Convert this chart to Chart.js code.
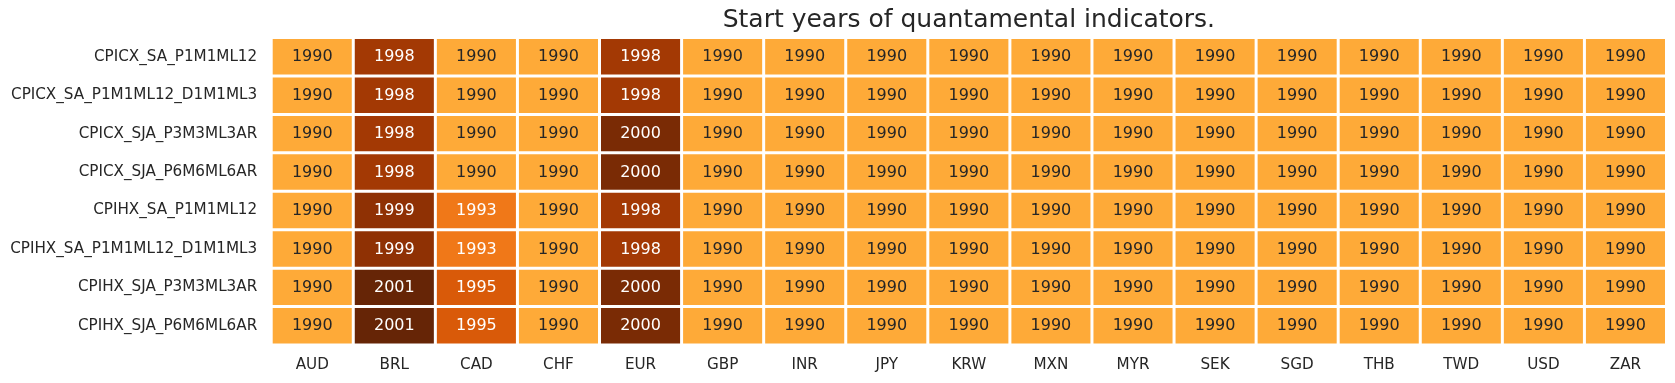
<!DOCTYPE html>
<html>
<head>
<meta charset="utf-8">
<script src="https://cdn.jsdelivr.net/npm/chart.js@4"></script>
<style>
  html, body { margin: 0; padding: 0; background: #ffffff; }
  #wrap { width: 1675px; height: 383px; }
</style>
</head>
<body>
<div id="wrap"><canvas id="c" width="1675" height="383"></canvas></div>
<script>
// ---- data ----
const chartTitle = "Start years of quantamental indicators.";
const currencies = ["AUD","BRL","CAD","CHF","EUR","GBP","INR","JPY","KRW","MXN","MYR","SEK","SGD","THB","TWD","USD","ZAR"];
const indicators = [
  "CPICX_SA_P1M1ML12",
  "CPICX_SA_P1M1ML12_D1M1ML3",
  "CPICX_SJA_P3M3ML3AR",
  "CPICX_SJA_P6M6ML6AR",
  "CPIHX_SA_P1M1ML12",
  "CPIHX_SA_P1M1ML12_D1M1ML3",
  "CPIHX_SJA_P3M3ML3AR",
  "CPIHX_SJA_P6M6ML6AR"
];
const startCPICX_SA_P1M1ML12         = [1990,1998,1990,1990,1998,1990,1990,1990,1990,1990,1990,1990,1990,1990,1990,1990,1990];
const startCPICX_SA_P1M1ML12_D1M1ML3 = [1990,1998,1990,1990,1998,1990,1990,1990,1990,1990,1990,1990,1990,1990,1990,1990,1990];
const startCPICX_SJA_P3M3ML3AR       = [1990,1998,1990,1990,2000,1990,1990,1990,1990,1990,1990,1990,1990,1990,1990,1990,1990];
const startCPICX_SJA_P6M6ML6AR       = [1990,1998,1990,1990,2000,1990,1990,1990,1990,1990,1990,1990,1990,1990,1990,1990,1990];
const startCPIHX_SA_P1M1ML12         = [1990,1999,1993,1990,1998,1990,1990,1990,1990,1990,1990,1990,1990,1990,1990,1990,1990];
const startCPIHX_SA_P1M1ML12_D1M1ML3 = [1990,1999,1993,1990,1998,1990,1990,1990,1990,1990,1990,1990,1990,1990,1990,1990,1990];
const startCPIHX_SJA_P3M3ML3AR       = [1990,2001,1995,1990,2000,1990,1990,1990,1990,1990,1990,1990,1990,1990,1990,1990,1990];
const startCPIHX_SJA_P6M6ML6AR       = [1990,2001,1995,1990,2000,1990,1990,1990,1990,1990,1990,1990,1990,1990,1990,1990,1990];

const rowValues = [
  startCPICX_SA_P1M1ML12, startCPICX_SA_P1M1ML12_D1M1ML3,
  startCPICX_SJA_P3M3ML3AR, startCPICX_SJA_P6M6ML6AR,
  startCPIHX_SA_P1M1ML12, startCPIHX_SA_P1M1ML12_D1M1ML3,
  startCPIHX_SJA_P3M3ML3AR, startCPIHX_SJA_P6M6ML6AR
];

// ---- colour map (YlOrBr) ----
const ylOrBr = [[255,255,229],[255,247,188],[254,227,145],[254,196,79],[254,153,41],[236,112,20],[204,76,2],[153,52,4],[102,37,6]];
const vmin = 1981, vmax = 2001;
function cmap(v) {
  let t = (v - vmin) / (vmax - vmin);
  t = Math.max(0, Math.min(1, t));
  const p = t * (ylOrBr.length - 1);
  const i = Math.min(Math.floor(p), ylOrBr.length - 2);
  const f = p - i;
  const a = ylOrBr[i], b = ylOrBr[i + 1];
  const c = a.map((x, k) => Math.round(x + (b[k] - x) * f));
  return `rgb(${c[0]},${c[1]},${c[2]})`;
}
function textColor(v) { return v >= 1993 ? "#ffffff" : "#262626"; }

const FONT = "'DejaVu Sans', 'Noto Sans', sans-serif";

const datasets = rowValues.map((vals, r) => ({
  label: indicators[r],
  data: vals.map(() => [r, r + 1]),
  years: vals,
  backgroundColor: vals.map(cmap),
  borderColor: "#ffffff",
  borderWidth: 1.5,
  borderSkipped: false,
  inflateAmount: 0,
  grouped: false,
  categoryPercentage: 1.0,
  barPercentage: 1.0
}));

const annotatePlugin = {
  id: "annotate",
  afterDatasetsDraw(chart) {
    const ctx = chart.ctx;
    ctx.save();
    ctx.font = "16px " + FONT;
    ctx.textAlign = "center";
    ctx.textBaseline = "middle";
    chart.data.datasets.forEach((ds, di) => {
      const meta = chart.getDatasetMeta(di);
      meta.data.forEach((el, j) => {
        const v = ds.years[j];
        ctx.fillStyle = textColor(v);
        ctx.fillText(String(v), el.x, (el.y + el.base) / 2 + 0.5);
      });
    });
    ctx.restore();
  }
};

new Chart(document.getElementById("c"), {
  type: "bar",
  data: { labels: currencies, datasets },
  plugins: [annotatePlugin],
  options: {
    responsive: false,
    animation: false,
    layout: { padding: { left: 0, right: 8.5, top: 0, bottom: 0 } },
    plugins: {
      legend: { display: false },
      tooltip: { enabled: false },
      title: {
        display: true,
        text: chartTitle,
        fullSize: false,
        color: "#262626",
        font: { family: FONT, size: 25, weight: "normal", lineHeight: 1.2 },
        padding: { top: 5, bottom: 2.5 }
      }
    },
    scales: {
      x: {
        type: "category",
        offset: true,
        grid: { display: false, drawTicks: false },
        border: { display: false },
        ticks: { color: "#262626", font: { family: FONT, size: 15.2 }, padding: 11, autoSkip: false, maxRotation: 0 },
        afterFit(scale) { scale.height = 38; }
      },
      y: {
        type: "linear",
        min: 0,
        max: indicators.length,
        reverse: true,
        grid: { display: false, drawTicks: false },
        border: { display: false },
        afterBuildTicks(scale) {
          scale.ticks = indicators.map((_, i) => ({ value: i + 0.5 }));
        },
        ticks: {
          color: "#262626",
          font: { family: FONT, size: 15.2 },
          padding: 14,
          autoSkip: false,
          callback: (value, index) => indicators[index]
        },
        afterFit(scale) { scale.width = 271.2; }
      }
    }
  }
});
</script>
</body>
</html>
